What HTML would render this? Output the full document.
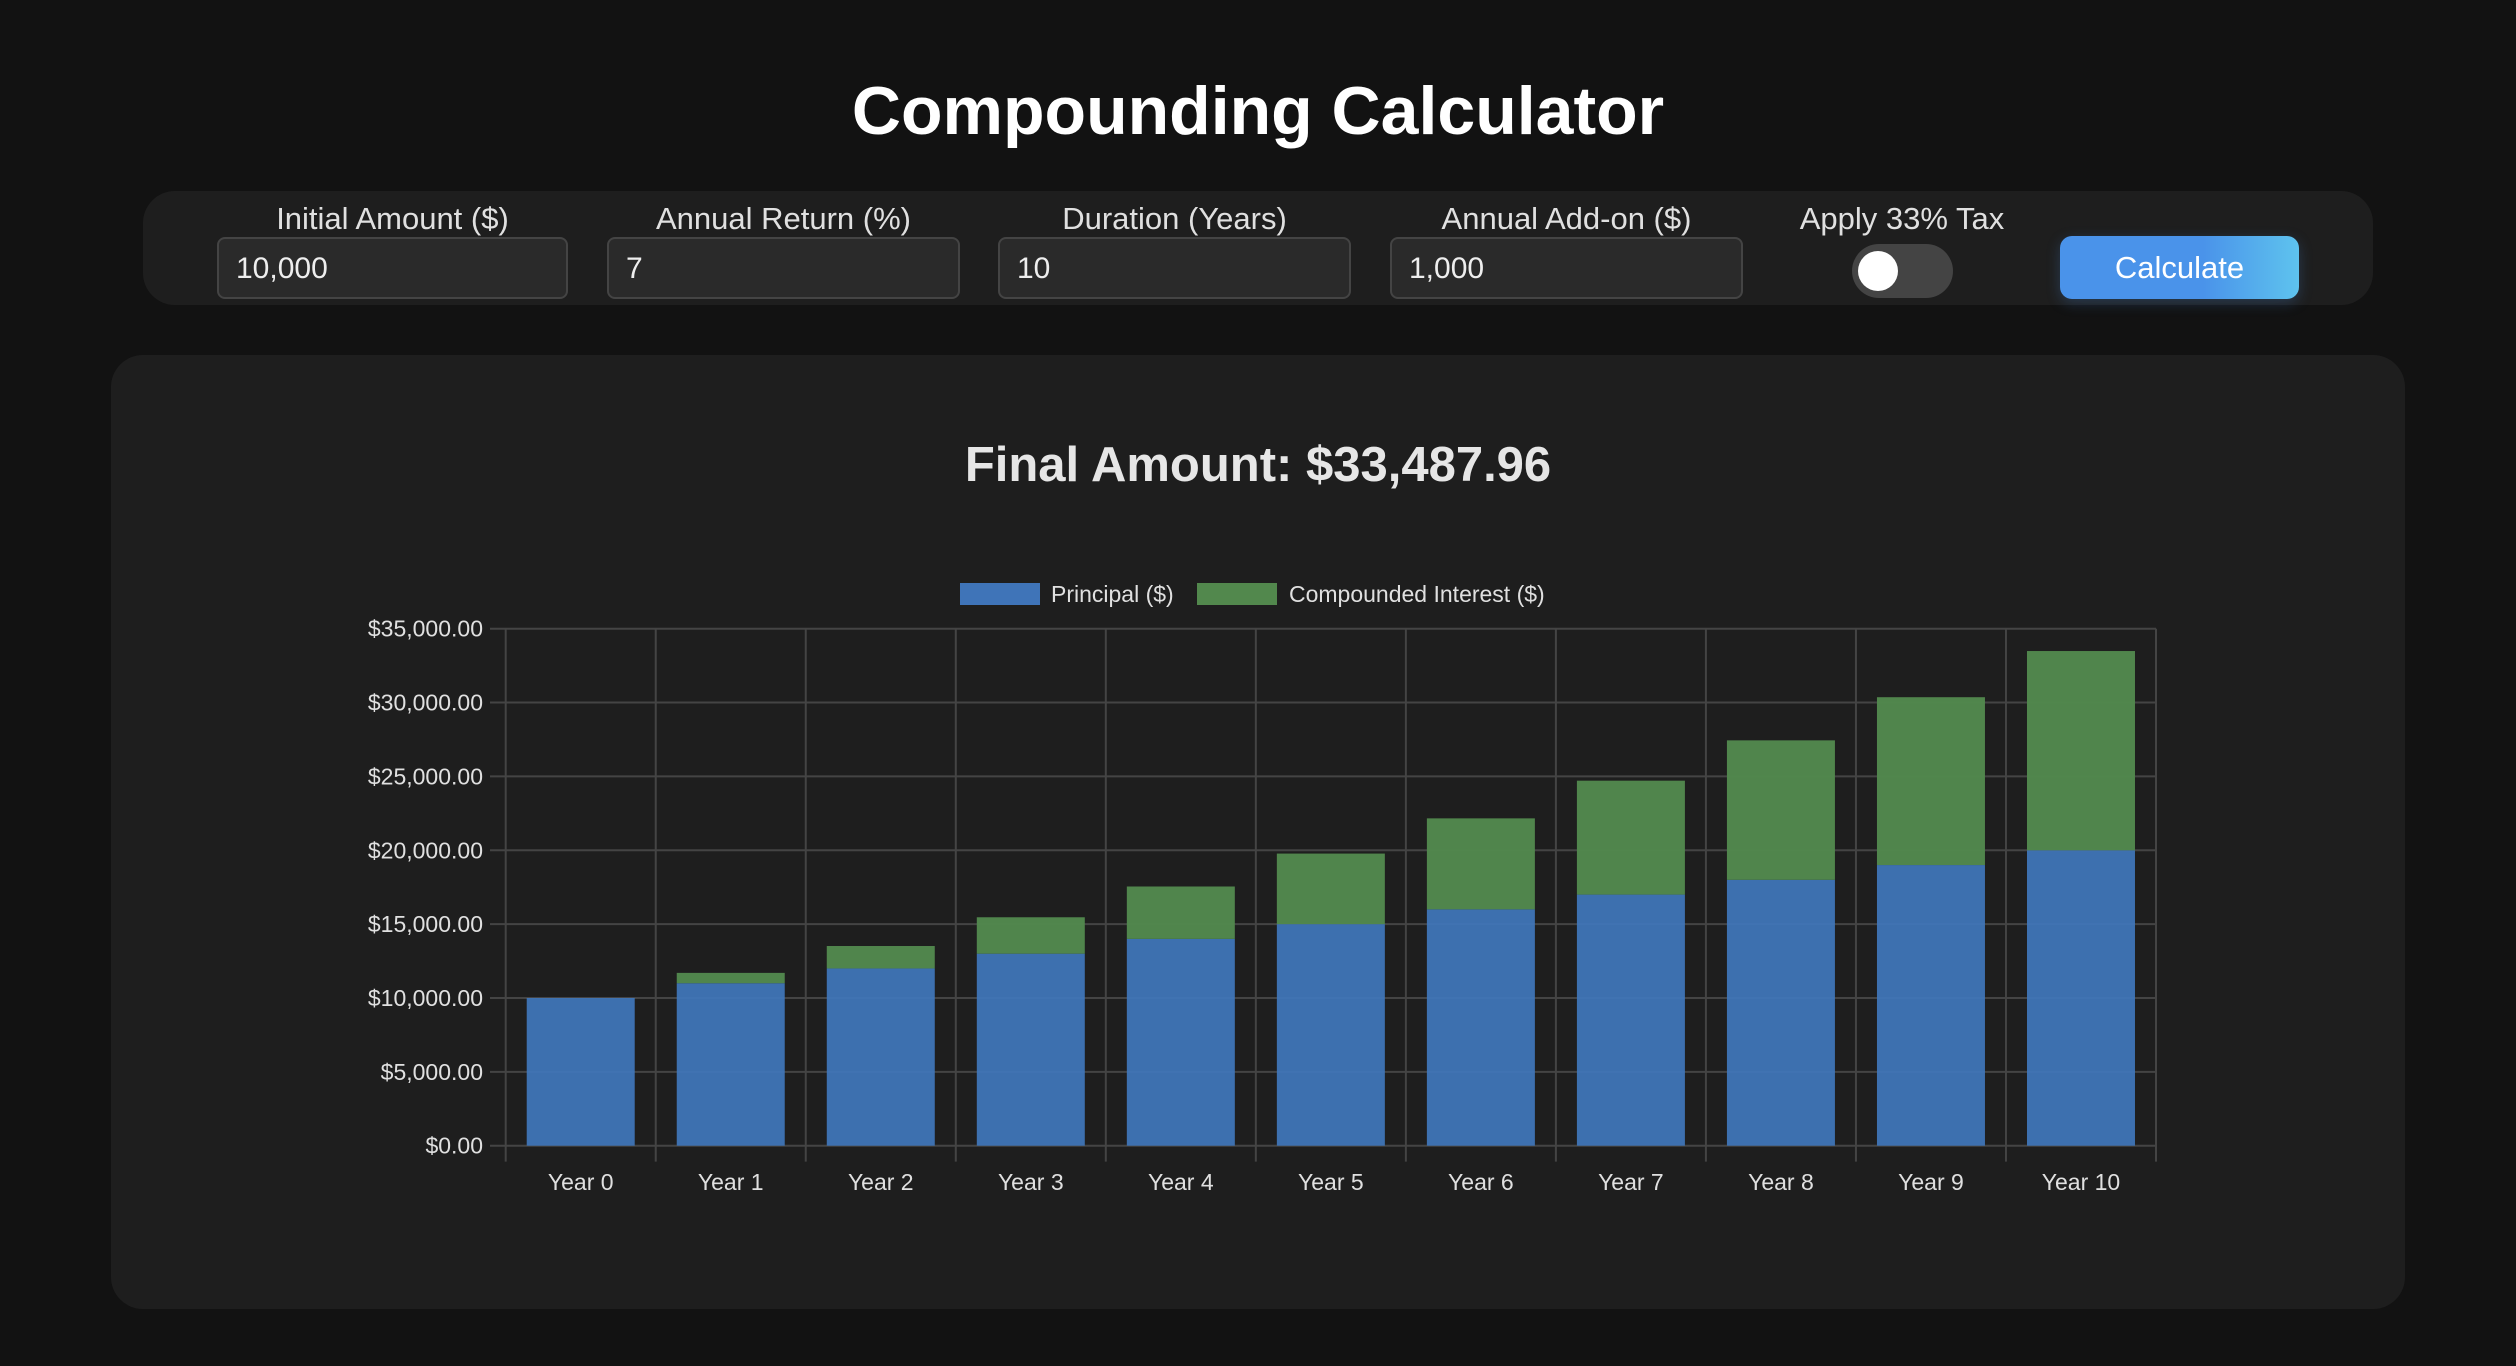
<!DOCTYPE html>
<html><head><meta charset="utf-8">
<style>
html,body{margin:0;padding:0;background:#121212;width:2516px;height:1366px;overflow:hidden;font-family:"Liberation Sans",sans-serif;color:#e6e6e6}
h1{position:absolute;left:0;width:2516px;top:72px;margin:0;text-align:center;font-size:68px;font-weight:bold;color:#fff}
.panel{position:absolute;left:143px;top:191px;width:2230px;height:114px;background:#1e1e1e;border-radius:32px}
.lbl{position:absolute;top:201px;font-size:31px;color:#e0e0e0;text-align:center}
.inp{position:absolute;top:237px;background:#2a2a2a;border:2px solid #444;border-radius:8px;font-size:30px;color:#eee;line-height:59px;padding-left:17px;box-sizing:border-box;height:62px}
.toggle{position:absolute;left:1852px;top:244px;width:101px;height:54px;border-radius:27px;background:#444}
.knob{position:absolute;left:6px;top:7px;width:40px;height:40px;border-radius:50%;background:#fff}
.btn{position:absolute;left:2060px;top:236px;width:239px;height:63px;border-radius:12px;background:linear-gradient(90deg,#4a93ea 0%,#4a93ea 60%,#5ec3ee 100%);color:#fff;font-size:31px;text-align:center;line-height:63px;box-shadow:0 4px 14px rgba(74,147,234,.25)}
.card{position:absolute;left:111px;top:355px;width:2294px;height:954px;background:#1e1e1e;border-radius:32px}
.final{position:absolute;left:0;width:2516px;top:437px;text-align:center;font-size:49px;font-weight:bold;color:#e6e6e6}
</style></head><body>
<h1>Compounding Calculator</h1>
<div class="panel"></div>
<div class="lbl" style="left:217px;width:351px">Initial Amount ($)</div>
<div class="inp" style="left:217px;width:351px">10,000</div>
<div class="lbl" style="left:607px;width:353px">Annual Return (%)</div>
<div class="inp" style="left:607px;width:353px">7</div>
<div class="lbl" style="left:998px;width:353px">Duration (Years)</div>
<div class="inp" style="left:998px;width:353px">10</div>
<div class="lbl" style="left:1390px;width:353px">Annual Add-on ($)</div>
<div class="inp" style="left:1390px;width:353px">1,000</div>
<div class="lbl" style="left:1752px;width:300px">Apply 33% Tax</div>
<div class="toggle"><div class="knob"></div></div>
<div class="btn">Calculate</div>
<div class="card"></div>
<div class="final">Final Amount: $33,487.96</div>
<svg id="chart" width="2516" height="1366" style="position:absolute;left:0;top:0"></svg>
<script>
const categories=["Year 0","Year 1","Year 2","Year 3","Year 4","Year 5","Year 6","Year 7","Year 8","Year 9","Year 10"];
const principal=[10000,11000,12000,13000,14000,15000,16000,17000,18000,19000,20000];
const interest=[0,700,1519,2465.33,3547.9,4776.3,6160.6,7711.9,9441.7,11362.6,13487.96];
const yTicks=[0,5000,10000,15000,20000,25000,30000,35000];
const yMax=35000;
const NS="http://www.w3.org/2000/svg";
const svg=document.getElementById('chart');
const L=505.7,R=2156,T=628.7,B=1145.7;
const cw=(R-L)/categories.length,bw=108;
function y(v){return B-(v/yMax)*(B-T);}
function x(i){return L+cw*i+cw/2;}
function mk(tag,attrs){const e=document.createElementNS(NS,tag);for(const k in attrs)e.setAttribute(k,attrs[k]);svg.appendChild(e);return e;}
yTicks.forEach(v=>{
  const g=mk('line',{x1:490,x2:R,y1:y(v),y2:y(v),stroke:'#444','stroke-width':2});
  
  
  const t=mk('text',{x:483,y:y(v)+8,'text-anchor':'end','font-size':23,fill:'#e0e0e0','font-family':'Liberation Sans, sans-serif'});
  t.textContent='$'+v.toLocaleString('en-US',{minimumFractionDigits:2});
  
  
});
for(let i=0;i<=categories.length;i++){
  const xx=L+cw*i;
  const g=mk('line',{x1:xx,x2:xx,y1:T,y2:1161.6,stroke:'#444','stroke-width':2});
  
  
}
categories.forEach((c,i)=>{
  const p=mk('rect',{x:x(i)-bw/2,y:y(principal[i]),width:bw,height:B-y(principal[i]),fill:'rgba(64,118,186,0.93)'});
  
  
  const top=principal[i]+interest[i];
  const q=mk('rect',{x:x(i)-bw/2,y:y(top),width:bw,height:y(principal[i])-y(top),fill:'rgba(82,136,77,0.97)'});
  
  
  const t=mk('text',{x:x(i),y:1190,'text-anchor':'middle','font-size':23,fill:'#e0e0e0','font-family':'Liberation Sans, sans-serif'});
  t.textContent=c;
  
  
});
const l1=mk('rect',{x:960,y:583,width:80,height:22,fill:'#3f74b8'});


const lt1=mk('text',{x:1051,y:602,'font-size':23,fill:'#e0e0e0','font-family':'Liberation Sans, sans-serif'});
lt1.textContent='Principal ($)';


const l2=mk('rect',{x:1197,y:583,width:80,height:22,fill:'#52884d'});


const lt2=mk('text',{x:1289,y:602,'font-size':23,fill:'#e0e0e0','font-family':'Liberation Sans, sans-serif'});
lt2.textContent='Compounded Interest ($)';


</script>
</body></html>
